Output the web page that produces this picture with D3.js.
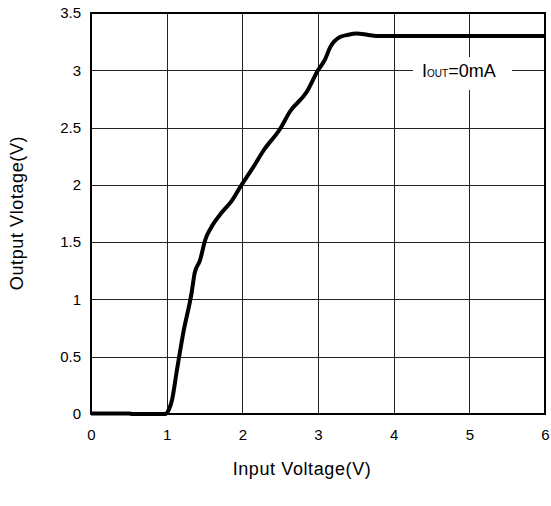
<!DOCTYPE html>
<html>
<head>
<meta charset="utf-8">
<script src="https://cdn.jsdelivr.net/npm/d3@7"></script>
<style>
	body { margin: 0; background: #fff; }
	text { font-family: "Liberation Sans", Arial, sans-serif; fill: #000; }
</style>
</head>
<body>
<div id="chart"></div>
<script>
// curve (input V, output V)
var vin  = [0, 0.5, 0.55, 0.98, 1.03, 1.07, 1.13, 1.22, 1.33, 1.37, 1.44, 1.51, 1.59, 1.73, 1.86, 1.99, 2.14, 2.28, 2.5, 2.63, 2.85, 3.0, 3.09, 3.16, 3.29, 3.4, 3.51, 3.65, 3.77, 4.35, 5, 6];
var vout = [0.005, 0.005, 0, 0, 0.04, 0.12, 0.36, 0.71, 1.06, 1.23, 1.34, 1.52, 1.63, 1.76, 1.86, 2.0, 2.15, 2.3, 2.49, 2.64, 2.81, 3.0, 3.09, 3.2, 3.29, 3.31, 3.32, 3.31, 3.3, 3.3, 3.3, 3.3];
var xTicks = [0, 1, 2, 3, 4, 5, 6];
var yTicks = [0, 0.5, 1, 1.5, 2, 2.5, 3, 3.5];

var width = 551, height = 506;
var plotLeft = 91, plotTop = 13, plotRight = 545, plotBottom = 414;

var svg = d3.select("#chart").append("svg")
	.attr("width", width)
	.attr("height", height);

var x = d3.scaleLinear().domain([0, 6]).range([plotLeft, plotRight]);
var y = d3.scaleLinear().domain([0, 3.5]).range([plotBottom, plotTop]);

// grid
svg.append("g")
	.selectAll("line")
	.data(xTicks.slice(1, -1))
	.enter().append("line")
	.attr("x1", function(d) { return Math.round(x(d)) + 0.5; })
	.attr("x2", function(d) { return Math.round(x(d)) + 0.5; })
	.attr("y1", plotTop).attr("y2", plotBottom)
	.attr("stroke", "#222").attr("stroke-width", 1);

svg.append("g")
	.selectAll("line")
	.data(yTicks.slice(1, -1))
	.enter().append("line")
	.attr("y1", function(d) { return Math.round(y(d)) + 0.5; })
	.attr("y2", function(d) { return Math.round(y(d)) + 0.5; })
	.attr("x1", plotLeft).attr("x2", plotRight)
	.attr("stroke", "#222").attr("stroke-width", 1);

// axes (labels only)
var xAxis = svg.append("g")
	.attr("transform", "translate(0," + plotBottom + ")")
	.call(d3.axisBottom(x).tickValues(xTicks).tickFormat(d3.format("d")).tickSize(0).tickPadding(15));
var yAxis = svg.append("g")
	.attr("transform", "translate(" + plotLeft + ",0)")
	.call(d3.axisLeft(y).tickValues(yTicks).tickFormat(function(d) { return String(d); }).tickSize(0).tickPadding(10));
[xAxis, yAxis].forEach(function(a) {
	a.select(".domain").remove();
	a.selectAll("text").style("font-size", "15px").style("font-family", "Liberation Sans, Arial, sans-serif");
});

// label with white box
svg.append("rect")
	.attr("x", 413).attr("y", 57)
	.attr("width", 99).attr("height", 33)
	.attr("fill", "#fff");
var lab = svg.append("text")
	.attr("x", 422).attr("y", 77)
	.style("font-size", "18px");
lab.append("tspan").text("I");
lab.append("tspan").style("font-size", "10px").text("OUT");
lab.append("tspan").text("=0mA");

// curve
var pts = vin.map(function(v, i) { return [v, vout[i]]; });
svg.append("path")
	.datum(pts)
	.attr("fill", "none")
	.attr("stroke", "#000")
	.attr("stroke-width", 4)
	.attr("stroke-linejoin", "round")
	.attr("d", d3.line()
		.x(function(d) { return x(d[0]); })
		.y(function(d) { return y(d[1]); })
		.curve(d3.curveMonotoneX));

// frame
svg.append("rect")
	.attr("x", plotLeft).attr("y", plotTop)
	.attr("width", plotRight - plotLeft).attr("height", plotBottom - plotTop)
	.attr("fill", "none")
	.attr("stroke", "#000")
	.attr("stroke-width", 2);

// axis titles
svg.append("text")
	.attr("x", 302)
	.attr("y", 475)
	.attr("text-anchor", "middle")
	.style("font-size", "18px")
	.style("letter-spacing", "0.6px")
	.text("Input Voltage(V)");

svg.append("text")
	.attr("transform", "translate(23,213) rotate(-90)")
	.attr("text-anchor", "middle")
	.style("font-size", "18px")
	.style("letter-spacing", "0.6px")
	.text("Output Vlotage(V)");
</script>
</body>
</html>
